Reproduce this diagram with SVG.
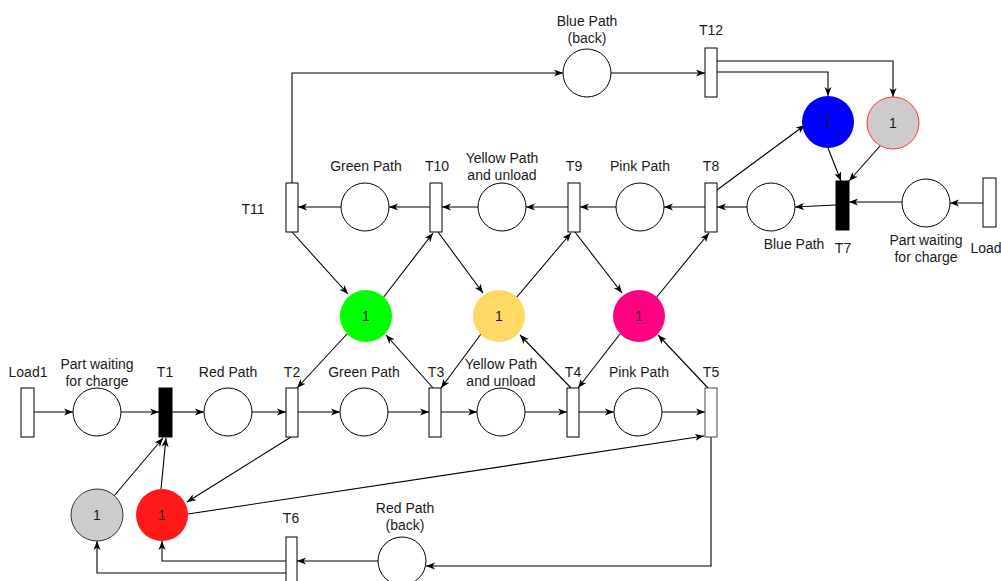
<svg xmlns="http://www.w3.org/2000/svg" width="1001" height="581" viewBox="0 0 1001 581">
<style>
.t{fill:#fff;stroke:#000;stroke-width:1}
.tb{fill:#000;stroke:#000;stroke-width:1}
.p{fill:#fff;stroke:#000;stroke-width:1}
.c{fill:none;stroke:#000;stroke-width:1.1;marker-end:url(#a)}
text{font-family:"Liberation Sans",Arial,sans-serif;font-size:14px;fill:#1a1a1a;text-anchor:middle}
.k{font-size:14px}
</style>
<defs>
<marker id="a" markerWidth="10" markerHeight="8" refX="9" refY="4" orient="auto" markerUnits="userSpaceOnUse">
<path d="M0,0.5 L9,4 L0,7.5 L2.5,4 Z" fill="#000"/>
</marker>
</defs>
<rect width="1001" height="581" fill="#fff"/>
<g id="connectors">
<line class="c" x1="34" y1="412" x2="73" y2="412"/>
<line class="c" x1="121" y1="412" x2="159" y2="412"/>
<line class="c" x1="172" y1="412" x2="204" y2="412"/>
<line class="c" x1="252" y1="412" x2="286" y2="412"/>
<line class="c" x1="298" y1="412" x2="340" y2="412"/>
<line class="c" x1="388" y1="412" x2="429" y2="412"/>
<line class="c" x1="441" y1="412" x2="477" y2="412"/>
<line class="c" x1="525" y1="412" x2="567" y2="412"/>
<line class="c" x1="579" y1="412" x2="614" y2="412"/>
<line class="c" x1="662" y1="412" x2="705" y2="412"/>
<line class="c" x1="983" y1="203" x2="950" y2="203"/>
<line class="c" x1="902" y1="202" x2="849" y2="202"/>
<line class="c" x1="836" y1="205" x2="795" y2="207"/>
<line class="c" x1="747" y1="207" x2="717" y2="207"/>
<line class="c" x1="705" y1="207" x2="664" y2="207"/>
<line class="c" x1="616" y1="207" x2="580" y2="207"/>
<line class="c" x1="568" y1="207" x2="526" y2="207"/>
<line class="c" x1="478" y1="207" x2="442" y2="207"/>
<line class="c" x1="430" y1="207" x2="389" y2="207"/>
<line class="c" x1="341" y1="207" x2="298" y2="207"/>
<polyline class="c" points="292,183 292,73 563,73"/>
<line class="c" x1="611" y1="73" x2="705" y2="73"/>
<polyline class="c" points="717,61 893,61 893,97"/>
<polyline class="c" points="717,72 828,72 828,96"/>
<polyline class="c" points="711,437 711,566 426,566"/>
<line class="c" x1="378" y1="561" x2="297" y2="561"/>
<polyline class="c" points="286,561 162,561 162,541"/>
<polyline class="c" points="286,573 97,573 97,541"/>
<line class="c" x1="114" y1="496" x2="163" y2="438"/>
<line class="c" x1="161" y1="489" x2="166" y2="438"/>
<line class="c" x1="291" y1="437" x2="187" y2="502"/>
<line class="c" x1="188" y1="514" x2="704" y2="436"/>
<line class="c" x1="292" y1="232" x2="348" y2="294"/>
<line class="c" x1="383" y1="298" x2="433" y2="233"/>
<line class="c" x1="438" y1="232" x2="483" y2="293"/>
<line class="c" x1="516" y1="298" x2="571" y2="233"/>
<line class="c" x1="575" y1="232" x2="622" y2="293"/>
<line class="c" x1="656" y1="298" x2="709" y2="233"/>
<line class="c" x1="347" y1="334" x2="297" y2="388"/>
<line class="c" x1="433" y1="388" x2="386" y2="335"/>
<line class="c" x1="481" y1="334" x2="441" y2="388"/>
<line class="c" x1="571" y1="388" x2="520" y2="335"/>
<line class="c" x1="620" y1="334" x2="578" y2="388"/>
<line class="c" x1="708" y1="388" x2="658" y2="335"/>
<line class="c" x1="717" y1="190" x2="805" y2="125"/>
<line class="c" x1="828" y1="148" x2="841" y2="181"/>
<line class="c" x1="880" y1="146" x2="849" y2="181"/>
</g>
<g id="Load1"><rect class="t" x="21" y="388" width="13" height="49"/><text x="28" y="377">Load1</text></g>
<g id="P_wait1"><circle class="p" cx="97" cy="412" r="24"/><text x="97" y="369">Part waiting</text><text x="97" y="386">for charge</text></g>
<g id="T1"><rect class="tb" x="159" y="388" width="13" height="49"/><text x="165" y="377">T1</text></g>
<g id="P_red"><circle class="p" cx="228" cy="412" r="24"/><text x="228" y="377">Red Path</text></g>
<g id="T2"><rect class="t" x="286" y="388" width="12" height="49"/><text x="292" y="377">T2</text></g>
<g id="P_green_b"><circle class="p" cx="364" cy="412" r="24"/><text x="364" y="377">Green Path</text></g>
<g id="T3"><rect class="t" x="429" y="388" width="12" height="49"/><text x="436" y="377">T3</text></g>
<g id="P_yellow_b"><circle class="p" cx="501" cy="412" r="24"/><text x="501" y="369">Yellow Path</text><text x="501" y="386">and unload</text></g>
<g id="T4"><rect class="t" x="567" y="388" width="12" height="49"/><text x="573" y="377">T4</text></g>
<g id="P_pink_b"><circle class="p" cx="638" cy="412" r="24"/><text x="639" y="377">Pink Path</text></g>
<g id="T5"><rect class="t" x="705" y="388" width="12" height="49" style="stroke:#444"/><text x="711" y="377">T5</text></g>
<g id="T6"><rect class="t" x="286" y="537" width="11" height="50"/><text x="291" y="523">T6</text></g>
<g id="P_red_back"><circle class="p" cx="402" cy="561" r="24"/><text x="405" y="513">Red Path</text><text x="405" y="530">(back)</text></g>
<g id="tok_gray"><circle cx="97" cy="515" r="26" fill="#cccccc" stroke="#333"/><text class="k" x="97" y="520">1</text></g>
<g id="tok_red"><circle cx="162" cy="515" r="26" fill="#ff1a1a"/><text class="k" x="162" y="520">1</text></g>
<g id="tok_green"><circle cx="366" cy="316" r="26" fill="#00ff00"/><text class="k" x="366" y="321">1</text></g>
<g id="tok_yellow"><circle cx="499" cy="316" r="26" fill="#ffd966"/><text class="k" x="499" y="321">1</text></g>
<g id="tok_pink"><circle cx="639" cy="316" r="26" fill="#ff0080"/><text class="k" x="639" y="321">1</text></g>
<g id="tok_blue"><circle cx="828" cy="122" r="26" fill="#0000ff"/><text class="k" x="828" y="127">1</text></g>
<g id="tok_gray2"><circle cx="893" cy="123" r="26" fill="#cccccc" stroke="#ff3333"/><text class="k" x="893" y="128">1</text></g>
<g id="T11"><rect class="t" x="286" y="183" width="12" height="49"/><text x="253" y="214">T11</text></g>
<g id="P_green_t"><circle class="p" cx="365" cy="207" r="24"/><text x="366" y="171">Green Path</text></g>
<g id="T10"><rect class="t" x="430" y="183" width="12" height="49"/><text x="437" y="171">T10</text></g>
<g id="P_yellow_t"><circle class="p" cx="502" cy="207" r="24"/><text x="502" y="163">Yellow Path</text><text x="502" y="180">and unload</text></g>
<g id="T9"><rect class="t" x="568" y="183" width="12" height="49"/><text x="574" y="171">T9</text></g>
<g id="P_pink_t"><circle class="p" cx="640" cy="207" r="24"/><text x="640" y="171">Pink Path</text></g>
<g id="T8"><rect class="t" x="705" y="183" width="12" height="49"/><text x="711" y="171">T8</text></g>
<g id="P_blue"><circle class="p" cx="771" cy="207" r="24"/><text x="794" y="249">Blue Path</text></g>
<g id="T7"><rect class="tb" x="836" y="181" width="13" height="49"/><text x="843" y="253">T7</text></g>
<g id="P_wait2"><circle class="p" cx="926" cy="203" r="24"/><text x="926" y="245">Part waiting</text><text x="926" y="262">for charge</text></g>
<g id="Load"><rect class="t" x="983" y="178" width="13" height="49"/><text x="986" y="253">Load</text></g>
<g id="P_blue_back"><circle class="p" cx="587" cy="73" r="24"/><text x="587" y="26">Blue Path</text><text x="587" y="43">(back)</text></g>
<g id="T12"><rect class="t" x="705" y="48" width="12" height="49"/><text x="711" y="35">T12</text></g>
</svg>
